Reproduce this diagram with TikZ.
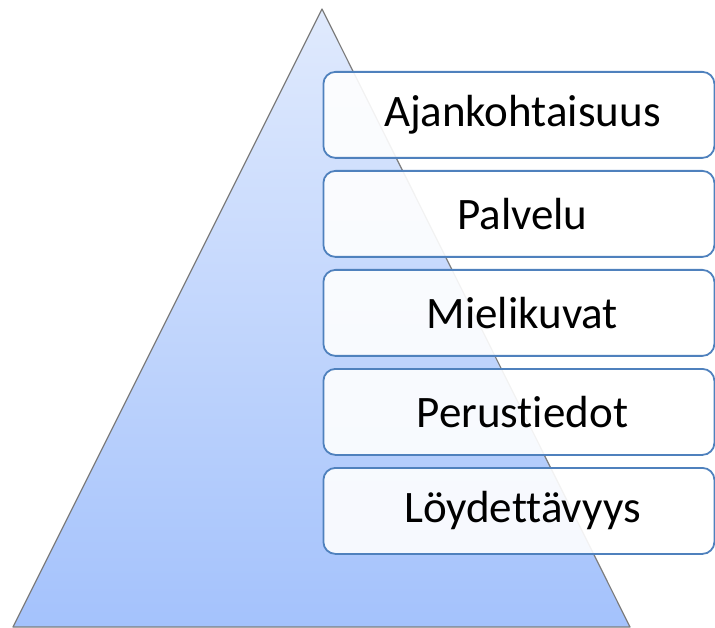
\documentclass[tikz,border=0pt]{standalone}
\usepackage{fontspec}
\setmainfont[Ligatures={NoCommon}]{Carlito}
\usepackage{tikz}
\usetikzlibrary{positioning}
\usepackage{xcolor}
\definecolor{pyrtop}{RGB}{224,234,253}
\definecolor{pyrbot}{RGB}{164,194,252}
\definecolor{boxline}{RGB}{79,129,189}
\definecolor{pyrline}{RGB}{125,125,125}

\begin{document}
\begin{tikzpicture}[x=1pt, y=-1pt,
    levelbox/.style={draw=boxline, line width=1.8pt, fill=white, fill opacity=0.9,
        text opacity=1, rounded corners=12pt, minimum width=391pt, minimum height=86pt,
        anchor=north west, inner sep=0pt, font=\fontsize{45}{50}\selectfont}]
        \useasboundingbox (0,0) rectangle (715,628);

        % Pyramid
        \coordinate (apex) at (322,9);
        \coordinate (baseL) at (13,627);
        \coordinate (baseR) at (630,627);
        \shade[top color=pyrtop, bottom color=pyrbot] (apex) -- (baseR) -- (baseL) -- cycle;
        \draw[pyrline, line width=1.2pt, line join=round] (apex) -- (baseR) -- (baseL) -- cycle;

        % Levels
        \foreach \lbl [count=\i from 0] in {Ajankohtaisuus, Palvelu, Mielikuvat, Perustiedot, Löydettävyys}
            \node[levelbox] (lvl\i) at (322.5, 71+99*\i) {\hspace*{7pt}\lbl};

\end{tikzpicture}
\end{document}
